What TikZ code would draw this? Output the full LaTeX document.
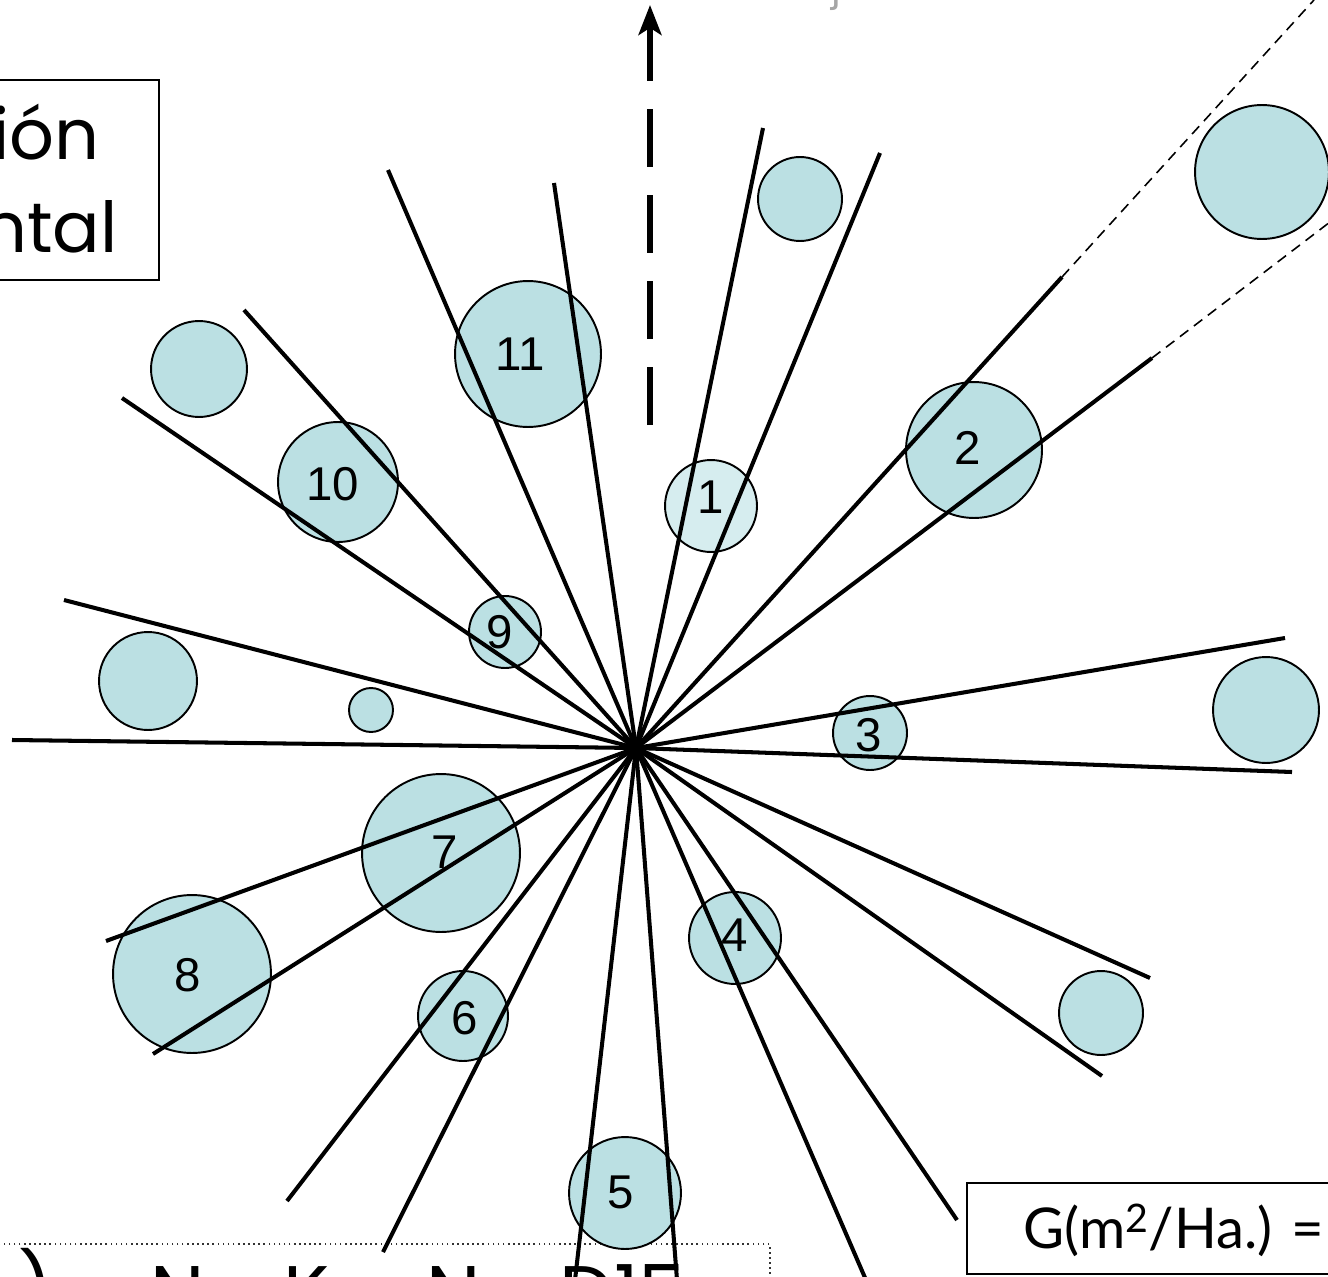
\documentclass[tikz,border=0pt]{standalone}
\usepackage{fontspec}
\setmainfont{Liberation Sans}
\newfontfamily\comic{Poppins}
\newfontfamily\comicn{Lato}
\usetikzlibrary{arrows.meta}
\definecolor{treefill}{HTML}{BBE0E3}
\definecolor{treelight}{HTML}{D6EDEF}
\begin{document}
\begin{tikzpicture}[x=0.02cm,y=-0.02cm,
  tree/.style={circle,draw=black,line width=1.1pt,fill=treefill,minimum size=#1*0.04cm,inner sep=0pt},
  lbl/.style={font=\fontsize{27}{27}\selectfont,inner sep=0pt},
  ray/.style={line width=2.3pt},
  raydash/.style={line width=0.9pt,dash pattern=on 6pt off 4pt},
  bigtxt/.style={font=\comic\fontsize{40}{40}\selectfont,inner sep=0pt},
  gtxt/.style={font=\comicn\fontsize{32}{32}\selectfont,inner sep=0pt}]
\useasboundingbox (0,0) rectangle (1328,1277);
\clip (0,0) rectangle (1328,1277);
\fill[white] (0,0) rectangle (1328,1277);

% gray fragment at top
\node[font=\comic\fontsize{22}{22}\selectfont,text=gray!70,anchor=base,inner sep=0pt] (frag) at (836,1) {j};

% top-left box
\coordinate (tl1) at (-20,80);
\coordinate (tl2) at (159,280);
\draw[line width=0.9pt] (tl1) rectangle (tl2);
\node[bigtxt,anchor=base east] (t1) at (100,160) {Proyección};
\node[bigtxt,anchor=base east] (t2) at (118,253) {horizontal};

% bottom dotted box
\coordinate (bb1) at (-20,1244);
\coordinate (bb2) at (770,1320);
\draw[line width=0.9pt,dotted,black!80] (bb1) rectangle (bb2);
\node[bigtxt,anchor=base west,font=\comic\fontsize{44}{44}\selectfont] (bt) at (18,1320) {) = N x K = N x D15};

% G box
\coordinate (gb1) at (967,1183);
\coordinate (gb2) at (1360,1274);
\draw[line width=1.1pt] (gb1) rectangle (gb2);
\node[gtxt,anchor=base west] (gt) at (1023,1248) {G(m\textsuperscript{2}/Ha.) =};

% trees
\node[tree=67] (c0) at (1262,172) {};
\node[tree=42] (c1) at (800,199) {};
\node[tree=73] (c11) at (528,354) {};
\node[tree=68] (c2) at (974,450) {};
\node[tree=46,fill=treelight] (c1b) at (711,506) {};
\node[tree=48] (c3) at (199,369) {};
\node[tree=60] (c10) at (338,482) {};
\node[tree=36] (c9) at (505,632) {};
\node[tree=49] (c4) at (148,681) {};
\node[tree=22] (c5) at (371,710) {};
\node[tree=37] (c3b) at (870,733) {};
\node[tree=53] (c6) at (1266,710) {};
\node[tree=79] (c7) at (441,853) {};
\node[tree=79] (c8) at (192,974) {};
\node[tree=46] (c4b) at (735,938) {};
\node[tree=45] (c6b) at (463,1016) {};
\node[tree=56] (c5b) at (625,1193) {};
\node[tree=42] (c12) at (1101,1013) {};

% rays
\coordinate (O) at (636,748);
\foreach \n/\p in {a/{388,170},b/{554,183},c/{763,128},d/{880,153},e/{1062,277},f/{1152,358},
  g/{244,310},h/{122,398},i/{64,600},j/{12,740},k/{1285,638},l/{1292,772},m/{106,941},
  n/{153,1054},o/{287,1201},p/{383,1252},q/{575,1280},r/{677,1280},s/{866,1280},
  t/{957,1220},u/{1102,1076},v/{1150,978}}{
  \coordinate (r\n) at (\p);
  \draw[ray] (O) -- (r\n);
}
\coordinate (de) at (1314,0);
\coordinate (df) at (1330,222);
\draw[raydash] (re) -- (de);
\draw[raydash] (rf) -- (df);

% dashed arrow
\coordinate (ab) at (650,425);
\coordinate (at) at (650,5);
\draw[line width=3.3pt,dash pattern=on 33pt off 16pt,-{Stealth[length=17pt,width=13pt,inset=4pt]}] (ab) -- (at);

% labels
\node[lbl] (l11) at (520,354) {11};
\node[lbl] (l2) at (968,448) {2};
\node[lbl] (l1) at (711,497) {1};
\node[lbl] (l10) at (333,484) {10};
\node[lbl] (l9) at (500,632) {9};
\node[lbl] (l3) at (869,735) {3};
\node[lbl] (l7) at (445,852) {7};
\node[lbl] (l8) at (188,975) {8};
\node[lbl] (l4) at (735,935) {4};
\node[lbl] (l6) at (465,1018) {6};
\node[lbl] (l5) at (621,1192) {5};
\end{tikzpicture}
\end{document}
